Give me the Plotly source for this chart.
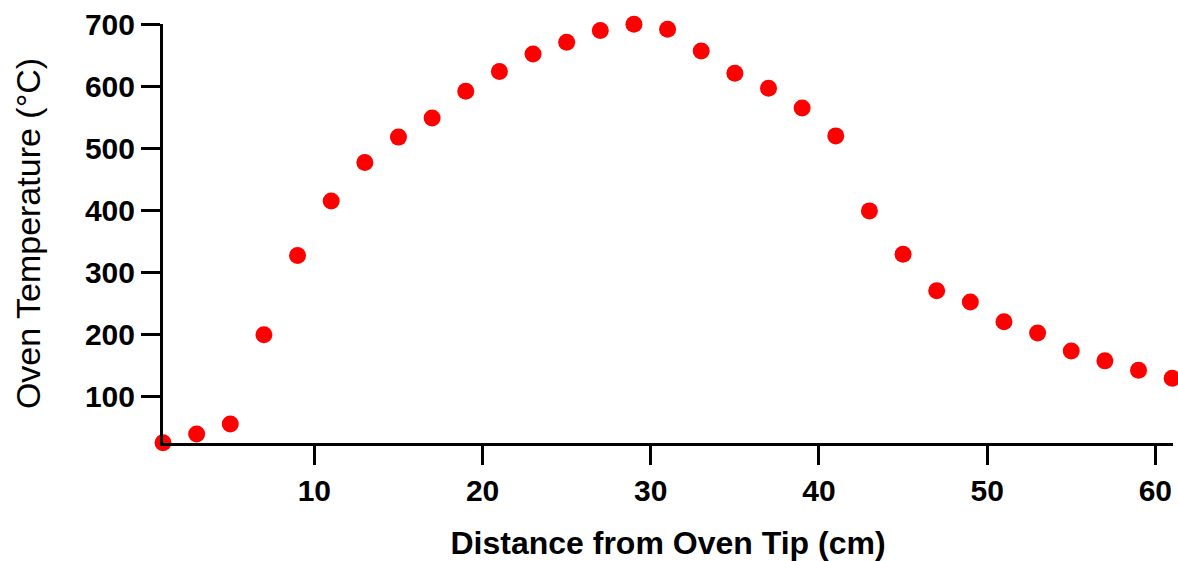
import plotly.graph_objects as go

distance_cm = [1, 3, 5, 7, 9, 11, 13, 15, 17, 19, 21, 23, 25, 27, 29, 31,
               33, 35, 37, 39, 41, 43, 45, 47, 49, 51, 53, 55, 57, 59, 61]
temperature_c = [26, 40, 56, 200, 328, 416, 478, 519, 550, 593, 625, 653, 672, 691, 701, 693,
                 658, 622, 598, 566, 521, 400, 330, 271, 253, 221, 203, 174, 158, 143, 130]

x_ticks = [10, 20, 30, 40, 50, 60]
y_ticks = [100, 200, 300, 400, 500, 600, 700]

fig = go.Figure(go.Scatter(
    x=distance_cm, y=temperature_c, mode="markers",
    marker=dict(color="#ff0000", size=17, line=dict(width=0)),
    cliponaxis=False,
))

font_family = "Liberation Sans, Arial, sans-serif"
fig.update_layout(
    width=1178, height=561,
    margin=dict(l=163, r=5, t=24, b=118, autoexpand=False),
    paper_bgcolor="white", plot_bgcolor="white",
    showlegend=False,
    font=dict(family=font_family, color="black"),
)
fig.update_xaxes(
    range=[1, 61.05], tickvals=x_ticks, showgrid=False, zeroline=False,
    showline=True, linewidth=3, linecolor="black",
    ticks="outside", ticklen=19, tickwidth=3, tickcolor="black",
    tickfont=dict(size=30, family=font_family, weight="bold"),
    title=dict(text="Distance from Oven Tip (cm)",
               font=dict(size=32, family=font_family, weight="bold"), standoff=26),
    automargin=False,
)
fig.update_yaxes(
    range=[25.5, 701.5], tickvals=y_ticks, showgrid=False, zeroline=False,
    showline=True, linewidth=3, linecolor="black",
    ticks="outside", ticklen=19, tickwidth=3, tickcolor="black",
    tickfont=dict(size=30, family=font_family, weight="bold"),
    title=dict(text="Oven Temperature (°C)",
               font=dict(size=34, family=font_family), standoff=35),
    automargin=False,
)
fig.write_html("out.html", config={"displayModeBar": False},
               post_script="document.body.style.margin='0';")
